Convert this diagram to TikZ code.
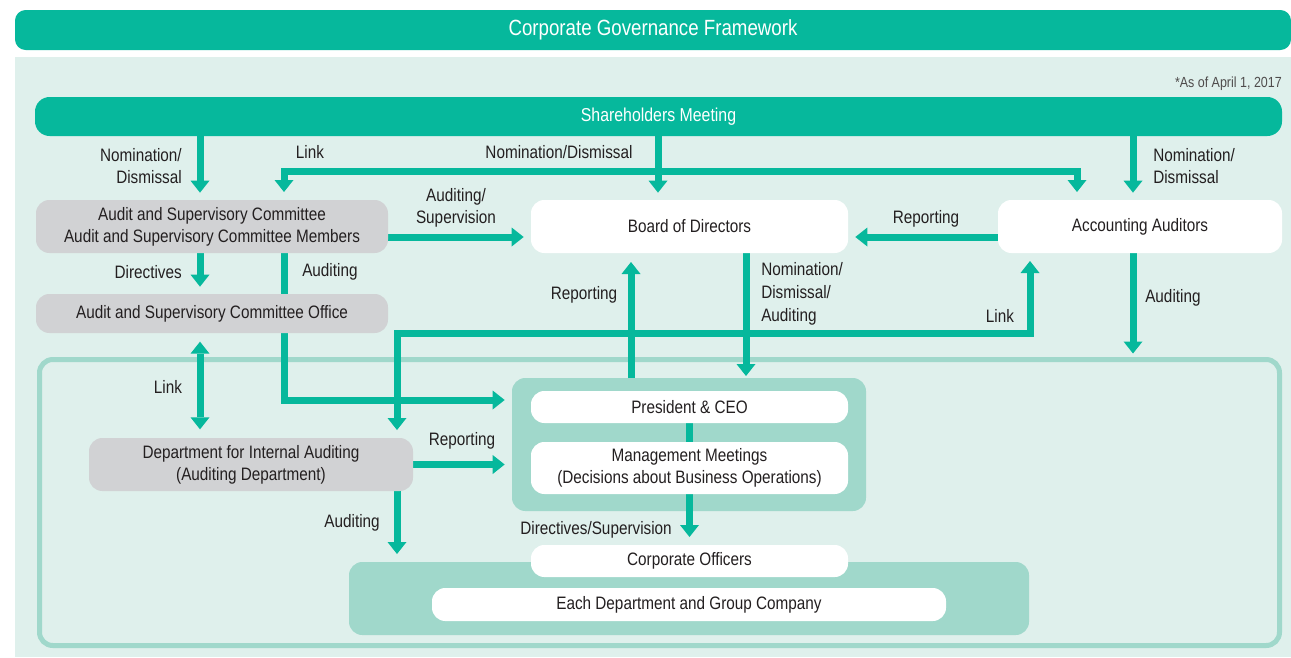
\documentclass[tikz,border=0pt]{standalone}
\usepackage{fontspec}
\setmainfont{Liberation Sans}[FakeStretch=0.85]
\usetikzlibrary{arrows.meta}

\definecolor{govteal}{HTML}{06B89C}
\definecolor{govmid}{HTML}{A0D8CB}
\definecolor{govlight}{HTML}{DFF0EC}
\definecolor{govgray}{HTML}{D1D2D4}
\definecolor{govtext}{HTML}{231F20}

\pgfdeclarelayer{back}
\pgfdeclarelayer{lines}
\pgfsetlayers{back,lines,main}

\tikzset{
  box/.style={rounded corners=10pt, inner sep=0pt, outer sep=0pt, align=center,
    font=\fontsize{13.5}{16.5}\selectfont, text=govtext},
  whitebox/.style={box, fill=white},
  graybox/.style={box, fill=govgray},
  panel/.style={rounded corners=10pt, fill=govmid, inner sep=0pt, outer sep=0pt},
  lbl/.style={font=\fontsize{13.5}{17}\selectfont, text=govtext, inner sep=0pt, align=center},
  tip/.tip={Triangle[width=14.25pt, length=9pt, line width=0pt]},
  flow/.style={draw=govteal, line width=5.25pt},
  arr/.style={flow, -tip, shorten >=5.5pt},
  twoway/.style={flow, tip-tip, shorten >=6pt, shorten <=6pt}
}

\begin{document}
\begin{tikzpicture}[x=0.75pt, y=-0.75pt]
  \useasboundingbox (0, 0) rectangle (1291, 657);

  \begin{pgfonlayer}{back}
    \fill[govlight] (15, 57) rectangle (1291, 657);
    \node[draw=govmid, line width=3.75pt, rounded corners=10pt, inner sep=0pt, outer sep=0pt,
      minimum width=930pt, minimum height=214.5pt] at (659.5, 502.5) (area) {};
    \node[panel, minimum width=265.5pt, minimum height=99.75pt] at (689, 444.5) (expanel) {};
    \node[panel, minimum width=510pt, minimum height=54.75pt] at (689, 598.5) (grppanel) {};
  \end{pgfonlayer}

  \node[box, fill=govteal, text=white, rounded corners=8pt, font=\fontsize{16.5}{20}\selectfont,
    minimum width=957pt, minimum height=30pt] at (653, 30) (title) {Corporate Governance Framework};
  \node[lbl, anchor=east, text=govtext!80, font=\fontsize{11}{13}\selectfont] at (1282, 84) (asof) {*As of April 1, 2017};
  \node[box, fill=govteal, text=white, rounded corners=11pt, font=\fontsize{14}{17}\selectfont,
    minimum width=935.25pt, minimum height=29.25pt] at (658.5, 116.5) (sh) {Shareholders Meeting};

  \node[graybox, minimum width=264pt, minimum height=39.75pt] at (212, 226.5) (asc)
    {Audit and Supervisory Committee\\Audit and Supervisory Committee Members};
  \node[graybox, minimum width=264pt, minimum height=29.25pt] at (212, 313.5) (office)
    {Audit and Supervisory Committee Office};
  \node[whitebox, minimum width=237.75pt, minimum height=39.75pt] at (689.5, 226.5) (board) {Board of Directors};
  \node[whitebox, minimum width=213pt, minimum height=39.75pt] at (1140, 226.5) (aa) {Accounting Auditors};
  \node[graybox, minimum width=243pt, minimum height=39.75pt] at (251, 464.5) (dia)
    {Department for Internal Auditing\\(Auditing Department)};
  \node[whitebox, minimum width=237.75pt, minimum height=24pt] at (689.5, 407) (ceo) {President \& CEO};
  \node[whitebox, minimum width=237.75pt, minimum height=39pt] at (689.5, 468) (mgmt)
    {Management Meetings\\(Decisions about Business Operations)};
  \node[whitebox, minimum width=237.75pt, minimum height=24pt] at (689.5, 561) (co) {Corporate Officers};
  \node[whitebox, minimum width=385.5pt, minimum height=24.75pt] at (689, 604.5) (each) {Each Department and Group Company};

  \node[lbl, anchor=east, align=right] at (182, 166) (l1) {Nomination/\\Dismissal};
  \node[lbl] at (310, 152) (l2) {Link};
  \node[lbl] at (559, 152) (l3) {Nomination/Dismissal};
  \node[lbl, anchor=west, align=left] at (1153, 166) (l4) {Nomination/\\Dismissal};
  \node[lbl] at (456, 208) (l5) {Auditing/\\Supervision};
  \node[lbl] at (926, 219) (l6) {Reporting};
  \node[lbl, anchor=east] at (182, 272) (l7) {Directives};
  \node[lbl, anchor=west] at (302, 272) (l8) {Auditing};
  \node[lbl] at (584, 295) (l9) {Reporting};
  \node[lbl, anchor=west, align=left] at (761, 294) (l10) {Nomination/\\Dismissal/\\Auditing};
  \node[lbl] at (1000, 316) (l11) {Link};
  \node[lbl, anchor=west] at (1145, 298) (l12) {Auditing};
  \node[lbl] at (168, 387) (l13) {Link};
  \node[lbl] at (462, 441) (l14) {Reporting};
  \node[lbl, anchor=east] at (380, 523) (l15) {Auditing};
  \node[lbl, anchor=east] at (672, 530) (l16) {Directives/Supervision};

  \coordinate (cA) at (200, 0);
  \coordinate (cB) at (284, 0);
  \coordinate (cC) at (397, 0);
  \coordinate (cD) at (631, 0);
  \coordinate (cE) at (658, 0);
  \coordinate (cF) at (746, 0);
  \coordinate (cH) at (1030, 0);
  \coordinate (cI) at (1077, 0);
  \coordinate (cJ) at (1133, 0);
  \coordinate (r0) at (0, 171);
  \coordinate (r1) at (0, 237);
  \coordinate (r3) at (0, 333);
  \coordinate (r4) at (0, 400);

  \begin{pgfonlayer}{lines}
    \draw[arr] (sh.south -| cA) -- (asc.north -| cA);
    \draw[arr] (sh.south -| cE) -- (board.north -| cE);
    \draw[arr] (sh.south -| cJ) -- (aa.north -| cJ);
    \draw[twoway] (asc.north -| cB) -- (cB |- r0) -- (cI |- r0) -- (aa.north -| cI);
    \draw[arr] (asc.east |- r1) -- (board.west |- r1);
    \draw[arr] (aa.west |- r1) -- (board.east |- r1);
    \draw[arr] (asc.south -| cA) -- (office.north -| cA);
    \draw[arr] (asc.south -| cB) -- (cB |- r4) -- (expanel.west |- r4);
    \draw[twoway, shorten <=6.5pt, shorten >=6.5pt] (office.south -| cA) -- (dia.north -| cA);
    \draw[twoway] (dia.north -| cC) -- (cC |- r3) -- (cH |- r3) -- (aa.south -| cH);
    \draw[arr, shorten >=6.75pt] (expanel.north -| cD) -- (board.south -| cD);
    \draw[arr, shorten >=1.5pt] (board.south -| cF) -- (expanel.north -| cF);
    \draw[arr, shorten >=4.5pt] (aa.south -| cJ) -- (area.north -| cJ);
    \draw[arr] (dia.east) -- (expanel.west |- dia.east);
    \draw[arr, shorten >=6pt] (dia.south -| cC) -- (grppanel.north -| cC);
    \draw[flow] (ceo.south) -- (mgmt.north);
    \draw[arr, shorten >=6pt] (mgmt.south) -- (co.north);
  \end{pgfonlayer}
\end{tikzpicture}
\end{document}
